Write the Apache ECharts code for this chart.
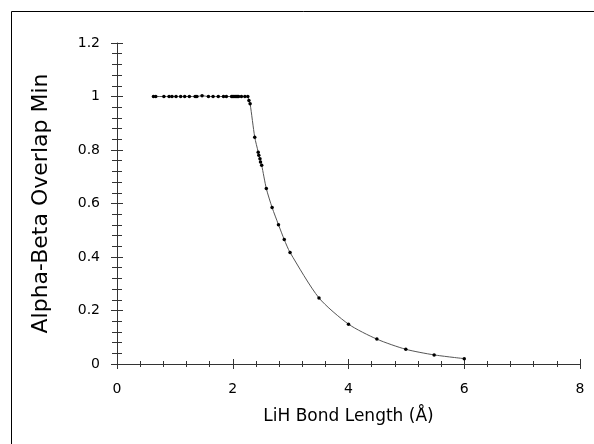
<!DOCTYPE html>
<html>
<head>
<meta charset="utf-8">
<script src="https://cdn.jsdelivr.net/npm/echarts@6/dist/echarts.min.js"></script>
<style>
  html, body { margin: 0; padding: 0; background: #fff; }
  #chart { width: 594px; height: 444px; }
</style>
</head>
<body>
<div id="chart"></div>
<script>
// LiH bond length scan (Å) and the minimum alpha-beta overlap at each geometry
var bondLength = [
  0.63, 0.67, 0.81, 0.90, 0.95, 1.02, 1.10, 1.17, 1.25, 1.35,
  1.38, 1.47, 1.58, 1.66, 1.75, 1.84, 1.89, 1.98, 2.00, 2.02,
  2.04, 2.06, 2.08, 2.10, 2.15, 2.21, 2.26, 2.28, 2.30, 2.38,
  2.44, 2.45, 2.47, 2.48, 2.50, 2.58, 2.68, 2.79, 2.89, 2.99,
  3.49, 4.00, 4.49, 4.99, 5.48, 6.00
];
var overlapMin = [
  1.000, 1.000, 1.000, 1.000, 1.000, 1.000, 1.000, 1.000, 1.000, 1.000,
  1.000, 1.003, 1.000, 1.000, 1.000, 1.000, 1.000, 1.000, 1.000, 1.000,
  1.000, 1.000, 1.000, 1.000, 1.000, 1.000, 1.000, 0.985, 0.973, 0.848,
  0.792, 0.780, 0.767, 0.755, 0.743, 0.656, 0.585, 0.521, 0.465, 0.417,
  0.247, 0.149, 0.093, 0.055, 0.034, 0.020
];
var xTitle = 'LiH Bond Length (\u00C5)';
var yTitle = 'Alpha-Beta Overlap Min';

var points = bondLength.map(function (x, i) { return [x, overlapMin[i]]; });

var font = 'DejaVu Sans, Verdana, sans-serif';
var axisColor = '#333';

// Each axis is drawn twice (outward + inward ticks) so the ticks cross the line.
function xAxisDef(inside, withLabels) {
  return {
    type: 'value', position: 'bottom', min: 0, max: 8, interval: 2,
    name: withLabels ? xTitle : '',
    nameLocation: 'middle', nameGap: 44,
    nameTextStyle: { fontFamily: font, fontSize: 17, color: '#000' },
    axisLine: { show: withLabels, onZero: false, lineStyle: { color: axisColor, width: 1 } },
    axisTick: { show: true, inside: inside, length: 5, lineStyle: { color: axisColor } },
    minorTick: { show: true, splitNumber: 5, length: 3, lineStyle: { color: axisColor } },
    axisLabel: { show: withLabels, margin: 18, fontFamily: font, fontSize: 14, color: '#000' },
    splitLine: { show: false }, minorSplitLine: { show: false }
  };
}
function yAxisDef(inside, withLabels) {
  return {
    type: 'value', position: 'left', min: 0, max: 1.2, interval: 0.2,
    name: withLabels ? yTitle : '',
    nameLocation: 'middle', nameGap: 65,
    nameTextStyle: { fontFamily: font, fontSize: 22, color: '#000' },
    axisLine: { show: withLabels, onZero: false, lineStyle: { color: axisColor, width: 1 } },
    axisTick: { show: true, inside: inside, length: 6, lineStyle: { color: axisColor } },
    minorTick: { show: true, splitNumber: 5, length: 5, lineStyle: { color: axisColor } },
    axisLabel: { show: withLabels, margin: 17, fontFamily: font, fontSize: 14, color: '#000' },
    splitLine: { show: false }, minorSplitLine: { show: false }
  };
}

var chart = echarts.init(document.getElementById('chart'), null, { renderer: 'canvas' });
chart.setOption({
  animation: false,
  backgroundColor: '#fff',
  grid: { left: 117, right: 14, top: 43, bottom: 80 },
  xAxis: [xAxisDef(false, true), xAxisDef(true, false)],
  yAxis: [yAxisDef(false, true), yAxisDef(true, false)],
  graphic: [{
    type: 'rect', silent: true, z: 100,
    shape: { x: 11.5, y: 11.5, width: 800, height: 800 },
    style: { fill: 'none', stroke: '#000', lineWidth: 1 }
  }],
  series: [{
    type: 'line',
    xAxisIndex: 0, yAxisIndex: 0,
    data: points,
    smooth: 0.25,
    symbol: 'circle', symbolSize: 3.5,
    showAllSymbol: true,
    itemStyle: { color: '#000' },
    lineStyle: { color: '#555', width: 1 }
  }]
});
</script>
</body>
</html>
